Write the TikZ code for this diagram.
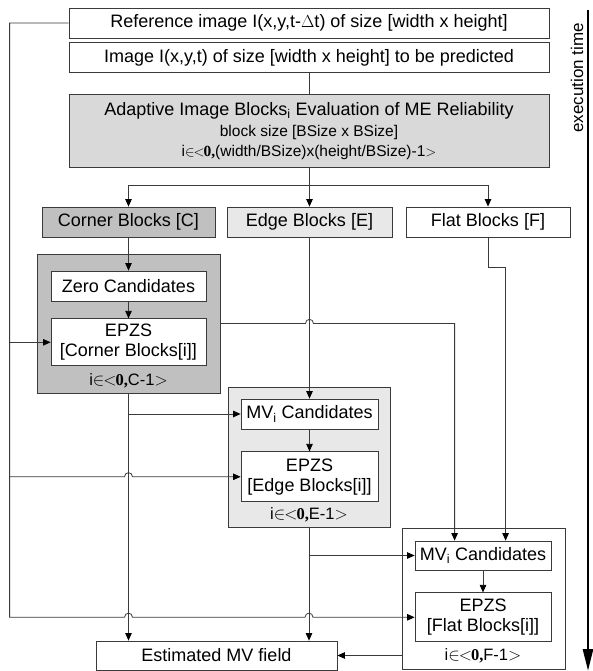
\documentclass[tikz,border=0pt]{standalone}
\usepackage{fontspec}
\setmainfont{Liberation Sans}
\newfontfamily\serifnum{Liberation Serif}
\usetikzlibrary{arrows.meta, positioning, calc}
\definecolor{linegray}{HTML}{3A3A3A}
\definecolor{evalgray}{HTML}{D9D9D9}
\definecolor{cornergray}{HTML}{C0C0C0}
\definecolor{edgegray}{HTML}{E8E8E8}

\begin{document}
\begin{tikzpicture}[x=1pt, y=-1pt,
  blk/.style={draw=linegray, fill=white, line width=0.8pt, inner sep=0pt,
              minimum height=30pt, align=center, font=\fontsize{18}{20}\selectfont},
  grp/.style={draw=linegray, line width=0.8pt, inner sep=0pt},
  lbl/.style={inner sep=0pt, font=\fontsize{16.5}{18}\selectfont},
  wire/.style={draw=linegray, line width=0.8pt},
  arr/.style={wire, -{Triangle[length=7.5pt,width=6.5pt,fill=black,color=black]}}]
  \useasboundingbox (0,0) rectangle (592,671);
  % Input images
  \node[blk, minimum width=480pt] (ref) at (309,23)
       {Reference image I(x,y,t-$\Delta$t) of size [width x height]};
  \node[blk, minimum width=480pt, below=4pt of ref] (img)
       {Image I(x,y,t) of size [width x height] to be predicted};
  % Reliability evaluation
  \node[blk, fill=evalgray, minimum width=480pt, minimum height=73pt, below=21pt of img] (eval)
       {Adaptive Image Blocks\textsubscript{i} Evaluation of ME Reliability\\[1pt]
        {\fontsize{15.5}{18}\selectfont block size [BSize x BSize]}\\
        {\fontsize{15.5}{18}\selectfont i$\in$\kern-1pt$<$\kern-1pt{\serifnum\bfseries 0,}(width/BSize)x(height/BSize)-1$>$}};
  % Block classes
  \node[blk, fill=cornergray, minimum width=173pt] (corner) at (128.5,222) {Corner Blocks [C]};
  \node[blk, fill=edgegray, minimum width=165pt] (edge) at (309.5,222) {Edge Blocks [E]};
  \node[blk, minimum width=164pt] (flat) at (488,222) {Flat Blocks [F]};
  % Corner loop
  \node[grp, fill=cornergray, minimum width=183pt, minimum height=139pt] (cgrp) at (128.5,323.5) {};
  \node[blk, minimum width=155pt] (zero) at (128.5,286) {Zero Candidates};
  \node[blk, minimum width=155pt, minimum height=47pt, below=17pt of zero] (cepzs)
       {EPZS\\{[Corner Blocks[i]]}};
  \node[lbl] (clab) at (128.5,381) {i$\in$\kern-1pt$<$\kern-1pt{\serifnum\bfseries 0,}C-1$>$};
  % Edge loop
  \node[grp, fill=edgegray, minimum width=162pt, minimum height=140pt] (egrp) at (309,457) {};
  \node[blk, minimum width=137pt] (emv) at (309.5,414) {MV\textsubscript{i} Candidates};
  \node[blk, minimum width=137pt, minimum height=50pt, below=22pt of emv] (eepzs)
       {EPZS\\{[Edge Blocks[i]]}};
  \node[lbl] (elab) at (309,515) {i$\in$\kern-1pt$<$\kern-1pt{\serifnum\bfseries 0,}E-1$>$};
  % Flat loop
  \node[grp, fill=white, minimum width=163pt, minimum height=141pt] (fgrp) at (483.5,598.5) {};
  \node[blk, minimum width=136pt, minimum height=29pt] (fmv) at (483,555.5) {MV\textsubscript{i} Candidates};
  \node[blk, minimum width=136pt, minimum height=49pt, below=22pt of fmv] (fepzs)
       {EPZS\\{[Flat Blocks[i]]}};
  \node[lbl] (flab) at (483,656) {i$\in$\kern-1pt$<$\kern-1pt{\serifnum\bfseries 0,}F-1$>$};
  % Result
  \node[blk, minimum width=241pt, minimum height=29pt] (est) at (216.5,655.5) {Estimated MV field};
  % Time axis
  \coordinate (ttop) at (588,10);
  \coordinate (tbot) at (588,671);
  \draw[line width=2.6pt, -{Triangle[length=22pt,width=10pt]}] (ttop) -- (tbot);
  \node[rotate=90, inner sep=0pt, font=\fontsize{17}{19}\selectfont] (tlab) at (577,78) {execution time};
  % Helper points
  \coordinate (split) at ($(eval.south)+(0,17)$);
  \coordinate (lft) at ([xshift=-59pt]ref.west);
  \coordinate (lbot) at (lft |- fepzs.west);
  \coordinate (j1) at (edge.south |- cgrp.east);
  \coordinate (j2) at (cgrp.south |- lbot);
  \coordinate (j3) at (egrp.south |- lbot);
  \coordinate (j4) at (cgrp.south |- eepzs.west);
  \coordinate (fin1) at ([xshift=40pt]fmv.north west);
  \coordinate (fin2) at ([xshift=91pt]fmv.north west);
  \coordinate (fjog) at ($(flat.south)+(0,30)$);
  % Arrows
  \draw[wire] (img) -- (eval);
  \draw[wire] (eval.south) -- (split);
  \draw[arr] (split) -| (corner.north);
  \draw[arr] (split) -- (split -| edge.north) -- (edge.north);
  \draw[arr] (split) -| (flat.north);
  \draw[arr] (corner) -- (zero);
  \draw[arr] (zero) -- (cepzs);
  \draw[arr] (edge) -- (emv);
  \draw[arr] (emv) -- (eepzs);
  \draw[arr] (fmv) -- (fepzs);
  \draw[arr] (cgrp.east) -- ([xshift=-4pt]j1) .. controls +(0,-5.5) and +(0,-5.5) .. ([xshift=4pt]j1) -| (fin1);
  \draw[arr] (flat.south) -- (fjog) -| (fin2);
  \draw[arr] (ref.west) -- (lft) -- (lbot)
       -- ([xshift=-4pt]j2) .. controls +(0,-5.5) and +(0,-5.5) .. ([xshift=4pt]j2)
       -- ([xshift=-4pt]j3) .. controls +(0,-5.5) and +(0,-5.5) .. ([xshift=4pt]j3)
       -- (fepzs.west);
  \draw[arr] (lft |- cepzs.west) -- (cepzs.west);
  \draw[arr] (lft |- eepzs.west) -- ([xshift=-4pt]j4) .. controls +(0,-5.5) and +(0,-5.5) .. ([xshift=4pt]j4) -- (eepzs.west);
  \draw[arr] (cgrp.south) -- (cgrp.south |- est.north);
  \draw[arr] (cgrp.south |- emv.west) -- (emv.west);
  \draw[arr] (egrp.south) -- (egrp.south |- est.north);
  \draw[arr] (egrp.south |- fmv.west) -- (fmv.west);
  \draw[arr] (fgrp.west |- est.east) -- (est.east);
\end{tikzpicture}
\end{document}
